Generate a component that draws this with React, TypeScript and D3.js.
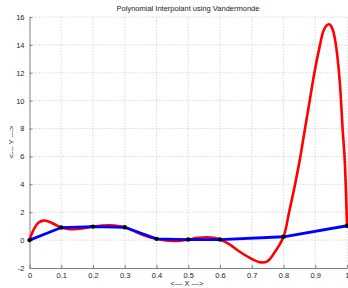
import React, { useEffect, useRef } from "react";
import * as d3 from "d3";

// data points (black markers + blue line)
const nodeX = [0, 0.1, 0.2, 0.3, 0.4, 0.5, 0.6, 0.8, 1];
const nodeY = [0, 0.9, 0.97, 0.92, 0.09, 0.04, 0.04, 0.24, 1.03];

// red curve
const curveX = [0, 0.008, 0.018, 0.03, 0.044, 0.06, 0.08, 0.1, 0.12, 0.14, 0.17, 0.2, 0.23, 0.255, 0.28, 0.3, 0.33, 0.36, 0.4, 0.43, 0.46, 0.5, 0.53, 0.56, 0.58, 0.6, 0.63, 0.66, 0.7, 0.73, 0.75, 0.77, 0.8, 0.818, 0.836, 0.854, 0.868, 0.883, 0.897, 0.915, 0.925, 0.935, 0.944, 0.951, 0.957, 0.965, 0.975, 0.981, 0.986, 0.992, 0.996, 1];
const curveY = [0, 0.5, 0.95, 1.28, 1.4, 1.33, 1.12, 0.9, 0.8, 0.78, 0.86, 0.97, 1.04, 1.06, 1.0, 0.92, 0.65, 0.35, 0.09, -0.03, -0.06, 0.04, 0.16, 0.21, 0.16, 0.04, -0.3, -0.8, -1.35, -1.6, -1.5, -0.95, 0.24, 2.05, 3.96, 6.11, 8.03, 10.06, 11.97, 14.0, 14.95, 15.38, 15.48, 15.3, 14.95, 14.0, 11.97, 10.06, 8.03, 6.11, 3.96, 1.03];

const xTicks = [0, 0.1, 0.2, 0.3, 0.4, 0.5, 0.6, 0.7, 0.8, 0.9, 1];
const yTicks = [-2, 0, 2, 4, 6, 8, 10, 12, 14, 16];

const W = 348, H = 288;
const margin = { left: 29.5, right: 1, top: 17, bottom: 20 };

export default function App() {
  const svgRef = useRef<SVGSVGElement>(null);

  useEffect(() => {
    const svg = d3.select(svgRef.current);
    svg.selectAll("*").remove();

    const x = d3.scaleLinear().domain([0, 1]).range([margin.left, W - margin.right]);
    const y = d3.scaleLinear().domain([-2, 16]).range([H - margin.bottom, margin.top]);
    const font = "Liberation Sans, Arial, sans-serif";

    // grid
    const grid = svg.append("g").attr("stroke", "#c8c8c8").attr("stroke-width", 0.7).attr("stroke-dasharray", "1.5,1.5");
    xTicks.slice(1).forEach(t => {
      grid.append("line").attr("x1", x(t)).attr("x2", x(t)).attr("y1", y(-2)).attr("y2", y(16));
    });
    yTicks.slice(1).forEach(t => {
      grid.append("line").attr("x1", x(0)).attr("x2", x(1)).attr("y1", y(t)).attr("y2", y(t));
    });

    // axes
    const xAxis = svg.append("g")
      .attr("transform", `translate(0,${y(-2)})`)
      .call(d3.axisBottom(x).tickValues(xTicks).tickFormat(d => String(d)).tickSizeInner(-3).tickSizeOuter(0).tickPadding(5));
    const yAxis = svg.append("g")
      .attr("transform", `translate(${x(0)},0)`)
      .call(d3.axisLeft(y).tickValues(yTicks).tickFormat(d => String(d)).tickSizeInner(-3).tickSizeOuter(0).tickPadding(5));
    [xAxis, yAxis].forEach(g => {
      g.selectAll("path, line").attr("stroke", "#808080");
      g.selectAll("text").attr("font-family", font).attr("font-size", 7.5).attr("fill", "#222");
    });
    // keep the last x label inside the picture
    xAxis.selectAll<SVGTextElement, number>("text").filter(d => d === 1).attr("text-anchor", "end").attr("dx", 2);

    // red interpolant
    const pts: [number, number][] = curveX.map((v, i) => [v, curveY[i]]);
    svg.append("path")
      .datum(pts)
      .attr("fill", "none")
      .attr("stroke", "#ff0000")
      .attr("stroke-width", 2.6)
      .attr("stroke-linejoin", "round")
      .attr("d", d3.line<[number, number]>().x(d => x(d[0])).y(d => y(d[1])).curve(d3.curveCatmullRom.alpha(0.5)));

    // blue polyline
    const nodes: [number, number][] = nodeX.map((v, i) => [v, nodeY[i]]);
    svg.append("path")
      .datum(nodes)
      .attr("fill", "none")
      .attr("stroke", "#0000ff")
      .attr("stroke-width", 2.8)
      .attr("d", d3.line<[number, number]>().x(d => x(d[0])).y(d => y(d[1])));

    svg.append("g").selectAll("circle").data(nodes).join("circle")
      .attr("cx", d => x(d[0])).attr("cy", d => y(d[1])).attr("r", 2.2).attr("fill", "#000");

    // title and labels
    svg.append("text").attr("x", 188).attr("y", 11).attr("text-anchor", "middle")
      .attr("font-family", font).attr("font-size", 7.5).attr("fill", "#222")
      .text("Polynomial Interpolant using Vandermonde");
    svg.append("text").attr("x", 187).attr("y", 286).attr("text-anchor", "middle")
      .attr("font-family", font).attr("font-size", 7.5).attr("fill", "#222")
      .text("<--- X --->");
    svg.append("text").attr("transform", "translate(14,142) rotate(-90)").attr("text-anchor", "middle")
      .attr("font-family", font).attr("font-size", 7.5).attr("fill", "#222")
      .text("<--- Y --->");
  }, []);

  return (
    <svg ref={svgRef} width={W} height={H} style={{ position: "absolute", left: 0, top: 0, background: "#fff" }} />
  );
}
